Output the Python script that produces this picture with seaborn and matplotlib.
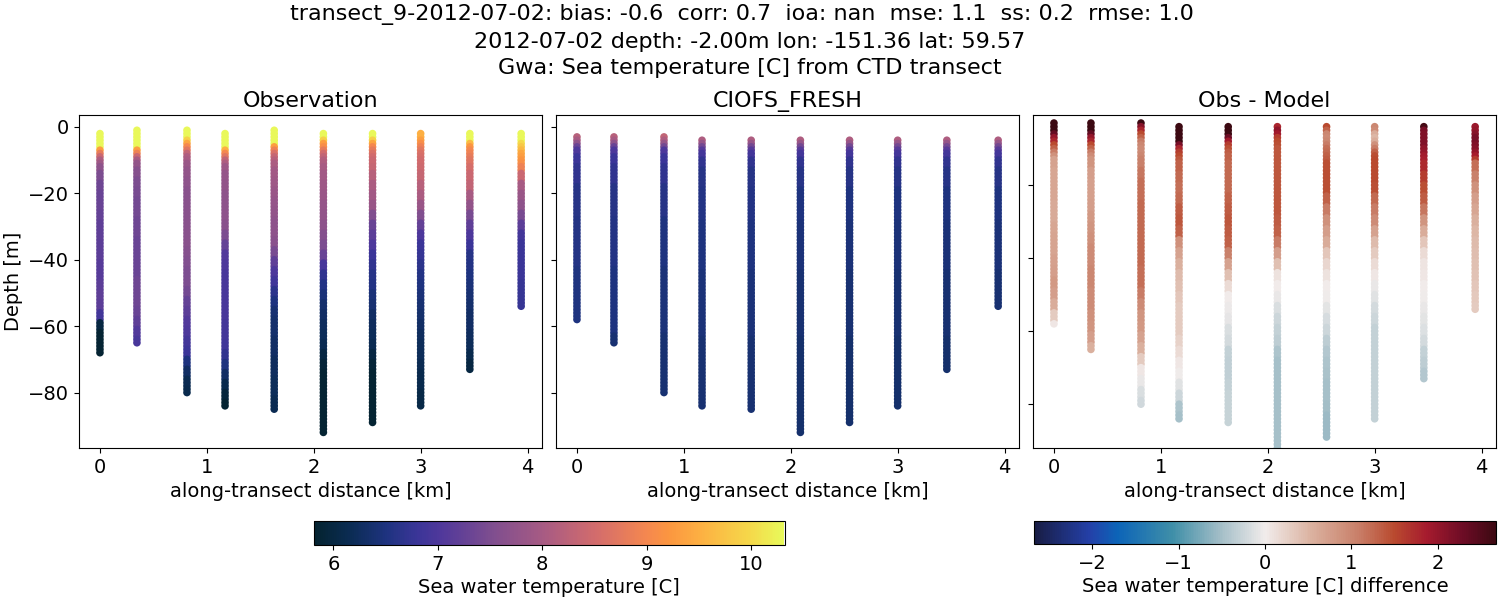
# transect comparison: obs, model, obs - model
import numpy as np
import pandas as pd
import matplotlib
matplotlib.use("Agg")
import matplotlib.pyplot as plt
from matplotlib.cm import ScalarMappable
from matplotlib.colors import LinearSegmentedColormap, Normalize
import seaborn as sns

# station positions [km]
station_km = [0, 0.346, 0.814, 1.17, 1.63, 2.09, 2.55, 3.0, 3.46, 3.94]

# top and bottom sample depth of each cast [m]
obs_top = [-2, -1, -1, -2, -1, -2, -2, -2, -2, -2]
obs_bottom = [-68, -65, -80, -84, -85, -92, -89, -84, -73, -54]
model_top = [-3, -3, -3, -4, -4, -4, -4, -4, -4, -4]
model_bottom = [-58, -65, -80, -84, -85, -92, -89, -84, -73, -54]

# values below hold for this many 1 m samples, going down from the top of a cast
obs_runs = [2, 1, 1, 1, 1, 1, 1, 1, 1, 2] + [3] * 28
model_runs = [1, 1, 1, 1, 2, 3, 6, 10, 15, 20, 40]
diff_runs = [1] * 10 + [3] * 28

# observed temperature [C]
obs_temp = [
    [10.3, 10.3, 10.3, 10.3, 9.3, 8.8, 8.4, 8.1, 7.9, 7.7, 7.5, 7.35, 7.3, 7.3, 7.25, 7.2, 7.2, 7.15, 7.15,
     7.1, 7.1, 7.15, 7.2, 7.15, 6.9, 6.0, 5.85, 5.85, 5.85],
    [10.3, 10.3, 10.3, 10.3, 10.3, 9.3, 8.9, 8.4, 8.0, 7.75, 7.6, 7.5, 7.45, 7.4, 7.4, 7.35, 7.35, 7.3, 7.3,
     7.3, 7.3, 7.35, 7.35, 7.35, 7.3, 7.2, 7.05, 6.95],
    [10.3, 10.3, 9.9, 9.4, 9.0, 8.7, 8.3, 8.1, 8.0, 7.85, 7.75, 7.7, 7.65, 7.65, 7.65, 7.65, 7.65, 7.65, 7.6,
     7.55, 7.5, 7.5, 7.4, 7.25, 7.15, 7.05, 7.0, 6.9, 6.8, 6.5, 6.3, 6.15, 6.1],
    [10.3, 10.3, 10.3, 10.3, 9.5, 9.0, 8.7, 8.3, 8.1, 7.9, 7.8, 7.75, 7.7, 7.7, 7.7, 7.65, 7.5, 7.25, 7.05,
     7.0, 6.95, 6.95, 6.95, 6.95, 6.95, 6.9, 6.9, 6.85, 6.7, 6.5, 6.3, 6.1, 5.95, 5.85],
    [10.3, 10.3, 10.3, 10.3, 9.3, 8.9, 8.6, 8.35, 8.2, 8.05, 7.95, 7.9, 7.85, 7.8, 7.75, 7.7, 7.7, 7.65, 7.45,
     7.2, 7.0, 6.85, 6.65, 6.5, 6.4, 6.35, 6.35, 6.3, 6.3, 6.25, 6.25, 6.2, 6.2, 6.15, 6.15],
    [10.3, 9.9, 9.3, 9.1, 8.8, 8.5, 8.3, 8.15, 8.1, 8.0, 7.95, 7.9, 7.85, 7.8, 7.75, 7.7, 7.6, 7.5, 7.3,
     6.95, 6.7, 6.55, 6.45, 6.35, 6.3, 6.25, 6.2, 6.15, 6.0, 5.9, 5.85, 5.85, 5.85, 5.85, 5.85, 5.85, 5.85],
    [10.3, 9.9, 9.4, 9.0, 8.8, 8.6, 8.5, 8.4, 8.4, 8.35, 8.2, 8.05, 7.95, 7.85, 7.55, 7.3, 7.15, 7.0, 6.8,
     6.7, 6.6, 6.55, 6.45, 6.4, 6.3, 6.25, 6.2, 6.15, 6.0, 5.9, 5.85, 5.85, 5.85, 5.85, 5.85],
    [9.5, 9.3, 9.1, 8.9, 8.75, 8.6, 8.55, 8.5, 8.5, 8.45, 8.35, 8.2, 8.05, 7.85, 7.55, 7.25, 7.0, 6.8, 6.75,
     6.65, 6.55, 6.5, 6.45, 6.4, 6.35, 6.3, 6.25, 6.2, 6.2, 6.15, 6.1, 6.1, 6.05, 6.05],
    [10.3, 10.3, 9.6, 9.2, 9.0, 8.9, 8.8, 8.7, 8.65, 8.55, 8.4, 8.3, 8.0, 7.75, 7.45, 7.2, 7.0, 6.8, 6.6,
     6.55, 6.5, 6.45, 6.4, 6.35, 6.3, 6.3, 6.25, 6.2, 6.1, 6.0],
    [10.3, 10.3, 10.0, 9.8, 9.6, 9.4, 9.3, 9.2, 9.1, 8.9, 8.4, 8.0, 7.85, 7.7, 7.45, 7.15, 6.9, 6.8, 6.8,
     6.8, 6.8, 6.75, 6.75, 6.75],
]

# model temperature [C]
model_temp = [
    [8.2, 8.0, 7.7, 7.3, 7.0, 6.8, 6.7, 6.6, 6.55, 6.5, 6.4],
    [8.2, 8.0, 7.7, 7.3, 7.0, 6.8, 6.7, 6.6, 6.55, 6.5, 6.4],
    [8.3, 8.1, 7.8, 7.4, 7.0, 6.8, 6.7, 6.6, 6.5, 6.45, 6.4],
    [8.1, 7.8, 7.4, 7.1, 6.9, 6.7, 6.6, 6.55, 6.5, 6.45, 6.4],
    [8.1, 7.8, 7.4, 7.1, 6.9, 6.7, 6.6, 6.55, 6.5, 6.45, 6.4],
    [8.1, 7.8, 7.4, 7.1, 6.9, 6.7, 6.6, 6.5, 6.45, 6.4, 6.35],
    [8.1, 7.8, 7.4, 7.1, 6.9, 6.7, 6.6, 6.5, 6.45, 6.4, 6.35],
    [8.1, 7.8, 7.4, 7.1, 6.9, 6.7, 6.6, 6.5, 6.45, 6.4, 6.35],
    [8.1, 7.8, 7.4, 7.1, 6.9, 6.7, 6.6, 6.5, 6.45, 6.4, 6.35],
    [8.1, 7.8, 7.4, 7.1, 6.9, 6.7, 6.6, 6.5, 6.45, 6.4, 6.35],
]

# obs - model [C], drawn at the model depths
temp_diff = [
    [2.7, 2.7, 2.7, 2.35, 2.0, 1.8, 1.5, 1.3, 1.1, 0.9, 0.7, 0.65, 0.65, 0.65, 0.62, 0.62, 0.65, 0.68, 0.68,
     0.72, 0.75, 0.8, 0.75, 0.6, 0.3, 0.05],
    [2.7, 2.7, 2.7, 2.35, 2.0, 1.8, 1.5, 1.3, 1.1, 0.95, 0.85, 0.75, 0.72, 0.72, 0.75, 0.8, 0.85, 0.9, 0.95,
     0.95, 1.0, 1.0, 0.95, 0.95, 0.9, 0.85, 0.75, 0.55],
    [2.7, 2.1, 1.8, 1.5, 1.3, 1.1, 1.0, 0.95, 0.95, 1.0, 1.05, 1.15, 1.2, 1.2, 1.25, 1.25, 1.25, 1.25, 1.25,
     1.25, 1.2, 1.2, 1.1, 0.95, 0.85, 0.8, 0.7, 0.55, 0.3, 0.05, -0.05, -0.15, -0.22],
    [2.7, 2.7, 2.7, 2.7, 2.7, 2.2, 1.8, 1.6, 1.5, 1.4, 1.3, 1.25, 1.2, 1.25, 1.35, 1.4, 1.3, 0.9, 0.7,
     0.55, 0.45, 0.4, 0.35, 0.3, 0.3, 0.3, 0.25, 0.15, 0.05, -0.02, -0.12, -0.25, -0.45, -0.5],
    [2.7, 2.7, 2.7, 2.3, 1.9, 1.6, 1.45, 1.35, 1.3, 1.3, 1.25, 1.25, 1.25, 1.3, 1.35, 1.4, 1.35, 1.3, 1.05,
     0.7, 0.4, 0.15, 0.0, -0.03, -0.08, -0.15, -0.2, -0.3, -0.33, -0.33, -0.3, -0.28, -0.28, -0.28],
    [1.8, 2.05, 1.9, 1.6, 1.5, 1.45, 1.4, 1.4, 1.4, 1.4, 1.4, 1.4, 1.4, 1.4, 1.4, 1.35, 1.3, 1.1, 0.75,
     0.4, 0.1, 0.0, -0.05, -0.15, -0.25, -0.3, -0.35, -0.45, -0.5, -0.5, -0.5, -0.5, -0.5, -0.5, -0.5, -0.5],
    [1.5, 1.3, 1.0, 0.95, 1.0, 1.1, 1.2, 1.25, 1.3, 1.35, 1.45, 1.45, 1.45, 1.3, 1.1, 0.9, 0.75, 0.6, 0.35,
     0.2, 0.1, 0.02, -0.02, -0.1, -0.18, -0.25, -0.35, -0.4, -0.45, -0.48, -0.5, -0.5, -0.52, -0.55, -0.55],
    [1.0, 0.95, 0.6, 0.5, 0.6, 0.9, 1.1, 1.3, 1.45, 1.5, 1.5, 1.5, 1.45, 1.25, 1.1, 0.95, 0.7, 0.45, 0.3,
     0.15, 0.05, -0.05, -0.12, -0.2, -0.25, -0.3, -0.3, -0.3, -0.3, -0.3, -0.3, -0.3, -0.3, -0.3],
    [2.6, 2.2, 2.15, 2.15, 2.15, 2.15, 2.05, 2.0, 1.9, 1.85, 1.75, 1.6, 1.45, 1.35, 1.15, 0.85, 0.6, 0.35, 0.15,
     0.08, 0.05, 0.02, -0.02, -0.05, -0.1, -0.13, -0.2, -0.3, -0.35, -0.4],
    [1.95, 2.0, 2.1, 2.2, 2.2, 2.15, 2.1, 2.0, 1.85, 1.6, 1.2, 1.05, 0.9, 0.75, 0.65, 0.55, 0.5, 0.45, 0.42,
     0.4, 0.38, 0.35, 0.33, 0.3],
]

titles = ["Observation", "CIOFS_FRESH", "Obs - Model"]
suptitle = (
    "transect_9-2012-07-02: bias: -0.6  corr: 0.7  ioa: nan  mse: 1.1  ss: 0.2  rmse: 1.0  \n"
    "2012-07-02 depth: -2.00m lon: -151.36 lat: 59.57\n"
    "Gwa: Sea temperature [C] from CTD transect"
)

sns.set_style("ticks", rc={"text.color": "black", "axes.labelcolor": "black", "xtick.color": "black",
                           "ytick.color": "black", "axes.edgecolor": "black"})
plt.rcParams["font.family"] = ["DejaVu Sans"]
plt.rcParams["font.size"] = 14

# cmocean isn't installed, so thermal and balance are approximated by hand
thermal = LinearSegmentedColormap.from_list("thermal_like", [
    (0.0, "#04232f"), (0.08, "#0b2c55"), (0.155, "#1f3380"), (0.22, "#3b3598"),
    (0.27, "#50389b"), (0.38, "#7f4e8f"), (0.49, "#a85b83"), (0.6, "#d36c6c"),
    (0.71, "#f5884f"), (0.755, "#fb9640"), (0.82, "#fdaf42"), (0.93, "#f5d94a"),
    (1.0, "#e8fa5b"),
])
balance = LinearSegmentedColormap.from_list("balance_like", [
    (0.0, "#181c43"), (0.12, "#2440a8"), (0.18, "#0c64b8"), (0.3, "#3f8fa8"),
    (0.4, "#a0bcc6"), (0.5, "#f1eceb"), (0.6, "#dbb2a0"), (0.7, "#c9806a"),
    (0.78, "#b94a2f"), (0.85, "#a61b2e"), (0.93, "#6c0c25"), (1.0, "#3c0912"),
])
temp_norm = Normalize(5.81, 10.32)
diff_norm = Normalize(-2.68, 2.68)


def make_casts(tops, bottoms, values, runs):
    # one row per 1 m sample for all the casts, last read value holds to the bottom
    frames = []
    for km, top, bottom, vals in zip(station_km, tops, bottoms, values):
        depth = np.arange(top, bottom - 1, -1)
        val = np.repeat(vals, runs[:len(vals)])[:len(depth)]
        val = np.pad(val, (0, len(depth) - len(val)), mode="edge")
        frames.append(pd.DataFrame({"km": km, "depth": depth, "val": val}))
    return pd.concat(frames, ignore_index=True)


obs_df = make_casts(obs_top, obs_bottom, obs_temp, obs_runs)
model_df = make_casts(model_top, model_bottom, model_temp, model_runs)
diff_df = make_casts(model_top, model_bottom, temp_diff, diff_runs)

fig = plt.figure(figsize=(15, 6), dpi=100)
W, H = 1500.0, 600.0
lefts = [79, 556, 1033]
axes = [fig.add_axes([x / W, 1 - 448 / H, 463 / W, 333 / H]) for x in lefts]

panels = [(obs_df, thermal, temp_norm), (model_df, thermal, temp_norm), (diff_df, balance, diff_norm)]
for ax, (df, cmap, norm), title in zip(axes, panels, titles):
    sns.scatterplot(data=df, x="km", y="depth", hue="val", palette=cmap, hue_norm=norm,
                    s=30, linewidth=0, legend=False, ax=ax)
    ax.set_xlim(-0.196, 4.135)
    ax.set_xlabel("along-transect distance [km]", fontsize=14)
    ax.set_ylabel("")
    ax.set_title(title, fontsize=16, pad=6)
    ax.tick_params(labelsize=14)
    ax.set_xticks([0, 1, 2, 3, 4])
    ax.set_yticks([-80, -60, -40, -20, 0])

axes[0].set_ylim(-96.7, 3.6)
axes[1].set_ylim(-96.7, 3.6)
axes[2].set_ylim(-92, -0.8)
axes[0].set_ylabel("Depth [m]", fontsize=14, labelpad=4)
axes[1].set_yticklabels([])
axes[2].set_yticklabels([])

cax1 = fig.add_axes([313.5 / W, 1 - 545 / H, 471 / W, 24 / H])
cax2 = fig.add_axes([1033.5 / W, 1 - 544 / H, 463 / W, 23 / H])
cb1 = fig.colorbar(ScalarMappable(norm=temp_norm, cmap=thermal), cax=cax1, orientation="horizontal")
cb2 = fig.colorbar(ScalarMappable(norm=diff_norm, cmap=balance), cax=cax2, orientation="horizontal")
cb1.set_ticks([6, 7, 8, 9, 10])
cb2.set_ticks([-2, -1, 0, 1, 2])
cb1.set_label("Sea water temperature [C]", fontsize=14, labelpad=3)
cb2.set_label("Sea water temperature [C] difference", fontsize=14, labelpad=3)
cb1.ax.tick_params(labelsize=14)
cb2.ax.tick_params(labelsize=14)

fig.suptitle(suptitle, fontsize=16, x=0.4997, y=0.993, va="top", linespacing=1.4)
fig.savefig("out.png", dpi=100)
plt.close(fig)
